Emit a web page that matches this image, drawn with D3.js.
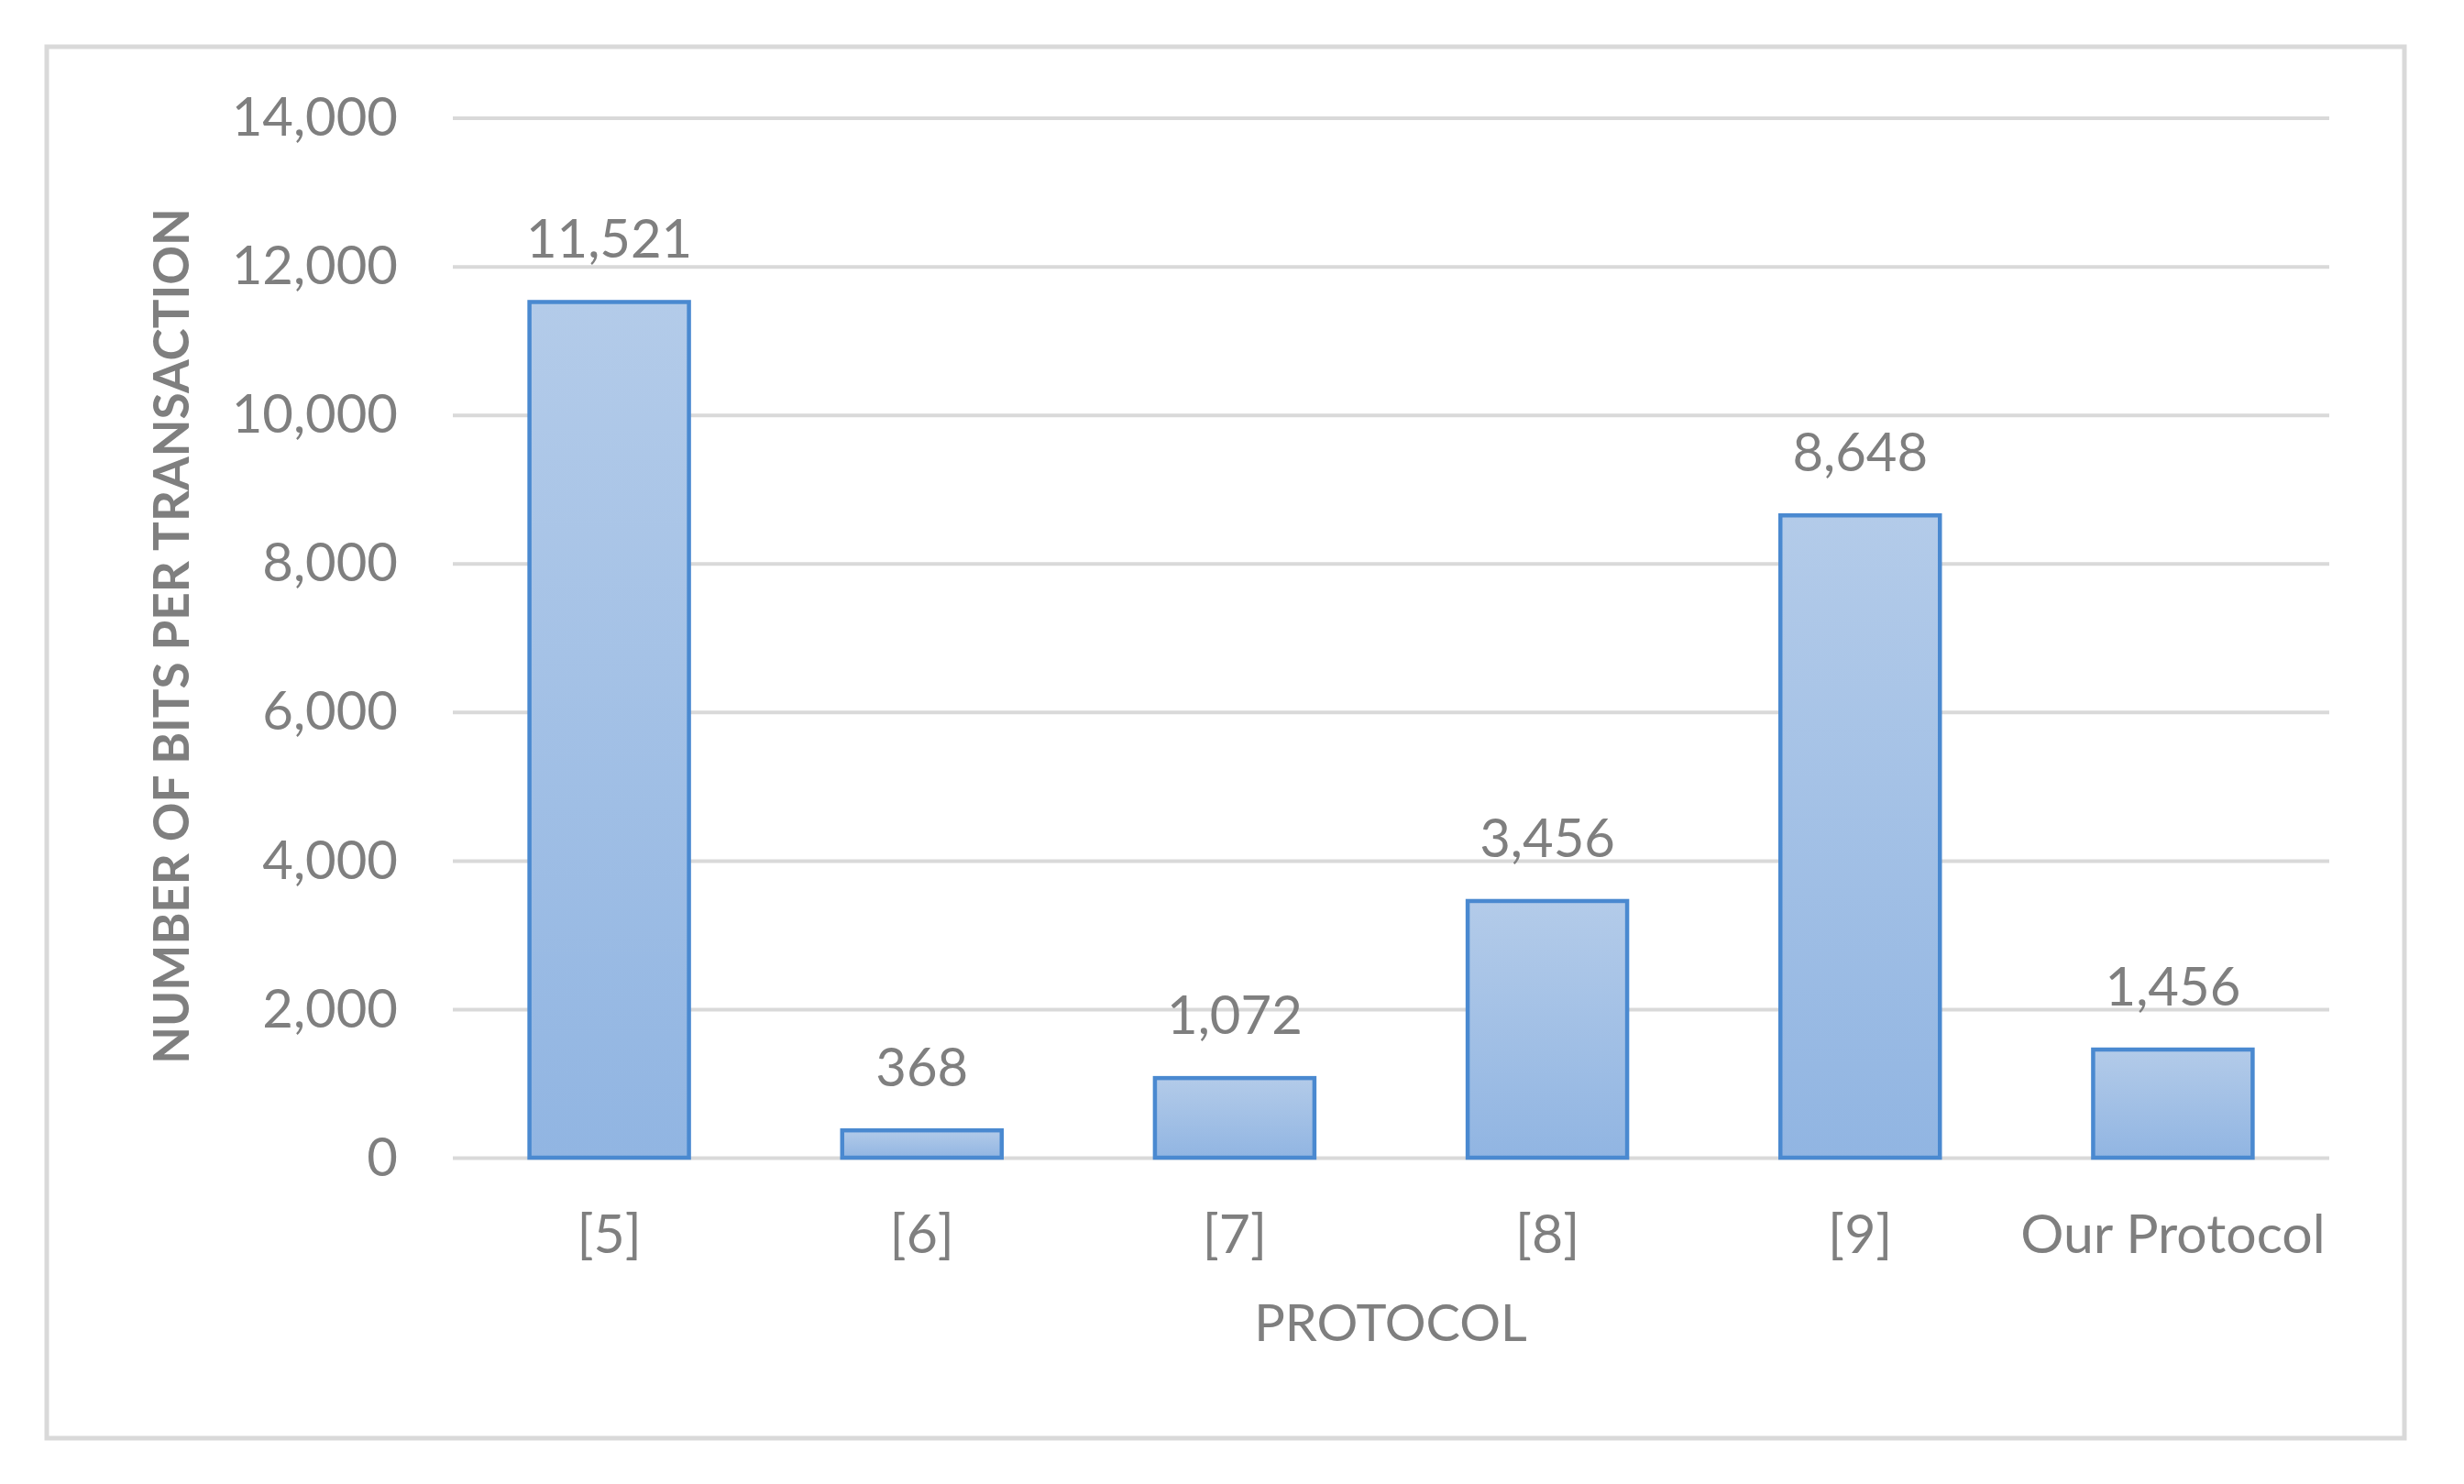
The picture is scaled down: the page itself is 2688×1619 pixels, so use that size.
<!DOCTYPE html>
<html>
<head>
<meta charset="utf-8">
<script src="https://cdn.jsdelivr.net/npm/d3@7"></script>
<style>
  html, body { margin: 0; padding: 0; background: #ffffff; }
  svg { display: block; }
  text { font-family: Lato, "Open Sans", sans-serif; }
</style>
</head>
<body>
<svg id="chart" width="2688" height="1619"></svg>
<script>
const categories = ["[5]", "[6]", "[7]", "[8]", "[9]", "Our Protocol"];
const values = [11521, 368, 1072, 3456, 8648, 1456];
const yTicks = [0, 2000, 4000, 6000, 8000, 10000, 12000, 14000];
const xTitle = "PROTOCOL";
const yTitle = "NUMBER OF BITS PER TRANSACTION";

const W = 2688, H = 1619;
const plot = { left: 494, right: 2541, top: 128.6, bottom: 1263 };

const svg = d3.select("#chart");

// gradient for bars
const defs = svg.append("defs");
const grad = defs.append("linearGradient")
  .attr("id", "barGrad").attr("x1", 0).attr("y1", 0).attr("x2", 0).attr("y2", 1);
grad.append("stop").attr("offset", "0%").attr("stop-color", "#b3cbe9");
grad.append("stop").attr("offset", "100%").attr("stop-color", "#91b5e2");

// outer frame
svg.append("rect")
  .attr("x", 51).attr("y", 51)
  .attr("width", 2623 - 51).attr("height", 1569 - 51)
  .attr("fill", "#ffffff")
  .attr("stroke", "#d9d9d9").attr("stroke-width", 5);

const x = d3.scaleBand()
  .domain(categories)
  .range([plot.left, plot.right])
  .paddingInner(0.49)
  .paddingOuter(0.245);

const y = d3.scaleLinear()
  .domain([0, 14000])
  .range([plot.bottom, plot.top]);

// gridlines
const yAxis = d3.axisLeft(y)
  .tickValues(yTicks)
  .tickSize(-(plot.right - plot.left))
  .tickPadding(60)
  .tickFormat(d3.format(","));

const gy = svg.append("g")
  .attr("transform", `translate(${plot.left},0)`)
  .call(yAxis);
gy.select(".domain").remove();
gy.selectAll(".tick line")
  .attr("stroke", "#d9d9d9").attr("stroke-width", 4);
gy.selectAll(".tick text")
  .attr("fill", "#7f7f7f")
  .attr("font-size", 58)
  .attr("dy", "0.33em");

// bars
svg.append("g").selectAll("rect")
  .data(values)
  .join("rect")
  .attr("x", (d, i) => x(categories[i]))
  .attr("y", d => y(d))
  .attr("width", x.bandwidth())
  .attr("height", d => y(0) - y(d))
  .attr("fill", "url(#barGrad)")
  .attr("stroke", "#4a89d0")
  .attr("stroke-width", 4.5);

// data labels
svg.append("g").selectAll("text")
  .data(values)
  .join("text")
  .attr("x", (d, i) => x(categories[i]) + x.bandwidth() / 2)
  .attr("y", d => y(d) - 48)
  .attr("text-anchor", "middle")
  .attr("fill", "#7f7f7f")
  .attr("font-size", 58)
  .text(d => d3.format(",")(d));

// category axis
const xAxis = d3.axisBottom(x).tickSize(0).tickPadding(0);
const gx = svg.append("g")
  .attr("transform", `translate(0,${plot.bottom})`)
  .call(xAxis);
gx.select(".domain").remove();
gx.selectAll(".tick text")
  .attr("fill", "#7f7f7f")
  .attr("font-size", 59)
  .attr("y", 104)
  .attr("dy", 0);

// axis titles
svg.append("text")
  .attr("x", 1517).attr("y", 1463)
  .attr("text-anchor", "middle")
  .attr("fill", "#7f7f7f")
  .attr("font-size", 56)
  .text(xTitle);

svg.append("text")
  .attr("transform", "translate(206,694) rotate(-90)")
  .attr("text-anchor", "middle")
  .attr("fill", "#7f7f7f")
  .attr("font-weight", "bold")
  .attr("font-size", 53)
  .text(yTitle);
</script>
</body>
</html>
